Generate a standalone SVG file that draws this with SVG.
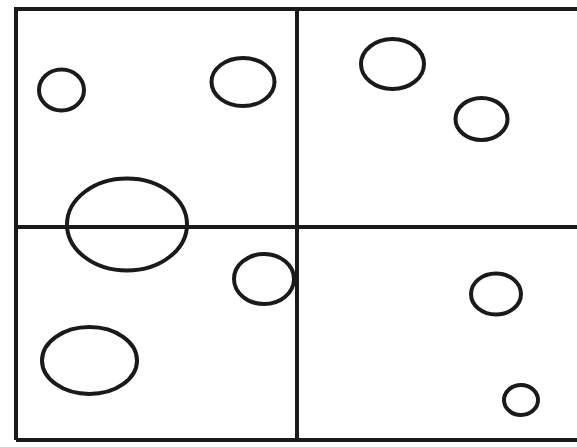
<svg xmlns="http://www.w3.org/2000/svg" width="577" height="447" viewBox="0 0 577 447">
<style>
.ln{stroke:#1a1a1a;stroke-width:4;fill:none}
.c{stroke:#1a1a1a;stroke-width:4;fill:none}
</style>
<rect width="577" height="447" fill="#ffffff"/>
<g id="grid">
<path class="ln" d="M16 440 V9 H580 M16 440 H580 M297 9 V440 M16 227 H580"/>
</g>
<g id="circles">
<ellipse class="c" cx="61.5" cy="90" rx="22.5" ry="20.5"/>
<ellipse class="c" cx="243" cy="82" rx="31.5" ry="24"/>
<ellipse class="c" cx="392.5" cy="64" rx="31.5" ry="25"/>
<ellipse class="c" cx="481.5" cy="119" rx="26" ry="21"/>
<ellipse class="c" cx="127" cy="224.5" rx="60" ry="46"/>
<ellipse class="c" cx="264" cy="279" rx="30" ry="25"/>
<ellipse class="c" cx="496" cy="294" rx="25" ry="20.5"/>
<ellipse class="c" cx="89.5" cy="360.5" rx="47.5" ry="33.5"/>
<ellipse class="c" cx="521" cy="400" rx="17" ry="15"/>
</g>
</svg>
